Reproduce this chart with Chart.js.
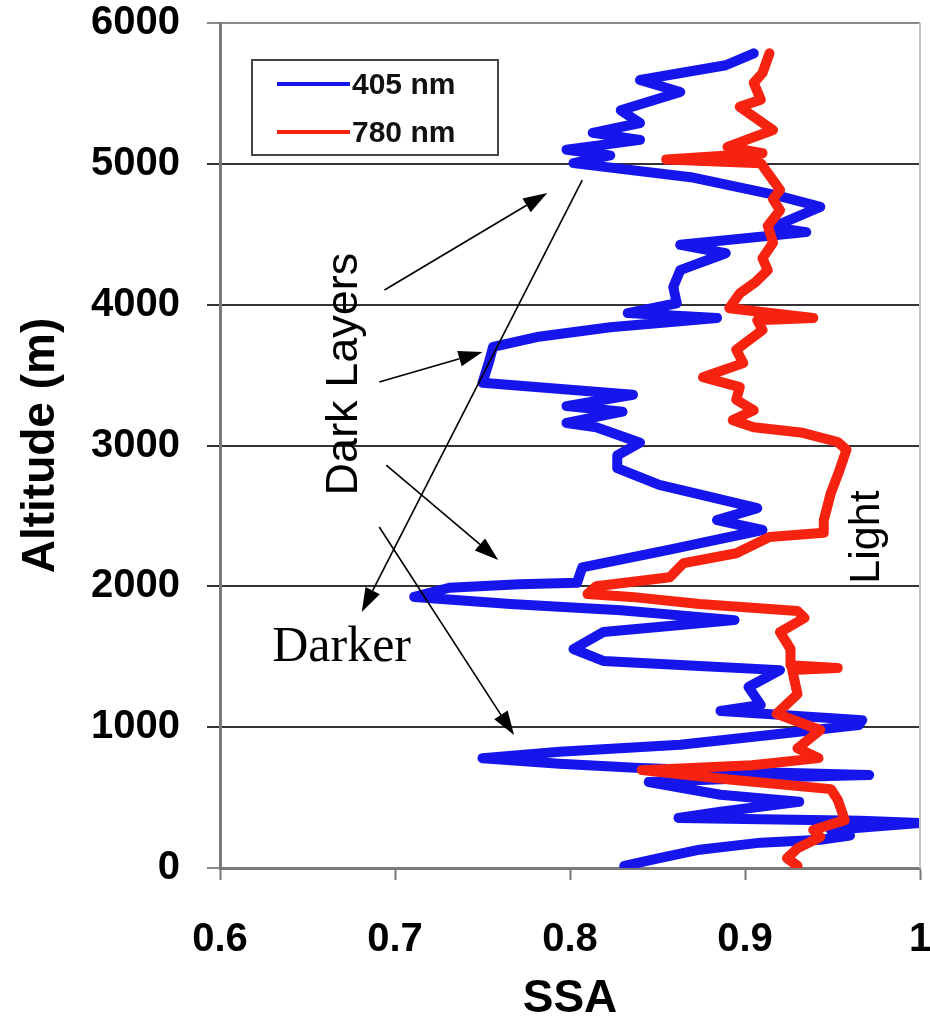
<!DOCTYPE html>
<html>
<head>
<meta charset="utf-8">
<script src="https://cdn.jsdelivr.net/npm/chart.js@4.4.1/dist/chart.umd.min.js"></script>
<style>
  html, body { margin: 0; padding: 0; background: #fff; }
</style>
</head>
<body>
<canvas id="ssaChart" width="930" height="1027"></canvas>
<script>
// SSA profiles, listed from the ground upwards
const blueSSA = [0.831, 0.851, 0.874, 0.909, 0.943, 0.960, 0.949, 1.000, 0.966, 0.862,
  0.886, 0.931, 0.886, 0.845, 0.909, 0.971, 0.909, 0.840, 0.794, 0.750,
  0.794, 0.863, 0.914, 0.965, 0.967, 0.886, 0.909, 0.902, 0.920, 0.874,
  0.819, 0.802, 0.819, 0.863, 0.894, 0.829, 0.766, 0.711, 0.731, 0.771,
  0.804, 0.807, 0.857, 0.910, 0.884, 0.907, 0.880, 0.851, 0.827, 0.827,
  0.840, 0.815, 0.798, 0.830, 0.798, 0.836, 0.750, 0.754, 0.756, 0.781,
  0.823, 0.884, 0.833, 0.861, 0.859, 0.863, 0.889, 0.863, 0.935, 0.916,
  0.943, 0.917, 0.869, 0.802, 0.823, 0.798, 0.840, 0.813, 0.840, 0.829,
  0.863, 0.840, 0.889, 0.905];
const blueAlt = [15, 70, 130, 180, 200, 230, 270, 320, 335, 355,
  400, 470, 520, 610, 640, 660, 680, 710, 740, 780,
  825, 875, 945, 1015, 1050, 1115, 1157, 1285, 1405, 1435,
  1470, 1555, 1675, 1725, 1760, 1830, 1875, 1925, 1990, 2015,
  2025, 2135, 2260, 2400, 2470, 2555, 2635, 2720, 2840, 2930,
  3020, 3130, 3160, 3240, 3280, 3360, 3445, 3605, 3700, 3770,
  3840, 3905, 3940, 4010, 4125, 4245, 4365, 4425, 4515, 4550,
  4695, 4780, 4905, 5005, 5060, 5100, 5170, 5220, 5290, 5380,
  5510, 5595, 5700, 5785];

const redSSA = [0.930, 0.924, 0.930, 0.943, 0.939, 0.957, 0.953, 0.949, 0.894, 0.841,
  0.904, 0.942, 0.930, 0.943, 0.918, 0.930, 0.927, 0.953, 0.926, 0.926,
  0.920, 0.934, 0.930, 0.874, 0.835, 0.810, 0.815, 0.857, 0.865, 0.895,
  0.914, 0.945, 0.945, 0.949, 0.954, 0.958, 0.953, 0.933, 0.905, 0.893,
  0.905, 0.895, 0.897, 0.876, 0.899, 0.895, 0.910, 0.907, 0.939, 0.891,
  0.897, 0.906, 0.913, 0.910, 0.916, 0.913, 0.920, 0.916, 0.920, 0.913,
  0.909, 0.855, 0.910, 0.890, 0.916, 0.897, 0.909, 0.905, 0.910, 0.914];
const redAlt = [15, 70, 140, 220, 270, 340, 485, 560, 625, 695,
  730, 780, 850, 980, 1095, 1235, 1405, 1420, 1440, 1555,
  1675, 1775, 1825, 1875, 1925, 1945, 2000, 2065, 2165, 2235,
  2350, 2380, 2470, 2660, 2825, 2970, 3025, 3090, 3130, 3180,
  3250, 3325, 3415, 3485, 3585, 3680, 3820, 3890, 3905, 3975,
  4080, 4160, 4245, 4330, 4440, 4560, 4670, 4750, 4815, 4935,
  5005, 5030, 5075, 5120, 5240, 5405, 5455, 5575, 5645, 5785];

const seriesLabels = ['405 nm', '780 nm'];
const seriesColors = ['#1616ec', '#f5230f'];
const xTickLabels = ['0.6', '0.7', '0.8', '0.9', '1'];
const yTickLabels = ['0', '1000', '2000', '3000', '4000', '5000', '6000'];

// arrows: [fromSSA, fromAlt, toSSA, toAlt]
const arrows = [
  [0.694, 4104, 0.787, 4793],
  [0.691, 3451, 0.750, 3664],
  [0.695, 2861, 0.759, 2187],
  [0.691, 2421, 0.768, 944],
  [0.807, 4885, 0.681, 1818]
];
// notes: [text, SSA, altitude, rotated, font]
const notes = [
  ['Dark Layers', 0.6714, 3507, true, '45px "Liberation Sans"'],
  ['Darker', 0.6695, 1562, false, '50px "Liberation Serif"'],
  ['Light', 0.970, 2350, true, '43px "Liberation Sans"']
];

function toPoints(xs, ys) {
  return xs.map((v, i) => ({ x: v, y: ys[i] }));
}

function drawArrow(ctx, x1, y1, x2, y2) {
  const ang = Math.atan2(y2 - y1, x2 - x1);
  const len = 24, half = 8;
  const bx = x2 - len * Math.cos(ang), by = y2 - len * Math.sin(ang);
  ctx.beginPath();
  ctx.moveTo(x1, y1);
  ctx.lineTo(bx, by);
  ctx.stroke();
  ctx.beginPath();
  ctx.moveTo(x2, y2);
  ctx.lineTo(bx + half * Math.sin(ang), by - half * Math.cos(ang));
  ctx.lineTo(bx - half * Math.sin(ang), by + half * Math.cos(ang));
  ctx.closePath();
  ctx.fill();
}

// frame edge, boxed legend and the hand-drawn notes
const overlay = {
  id: 'overlay',
  afterDraw(chart) {
    const { ctx, chartArea: a, scales: { x, y } } = chart;
    ctx.save();
    ctx.strokeStyle = '#c4c4c4';
    ctx.lineWidth = 2;
    ctx.beginPath();
    ctx.moveTo(a.right, a.top);
    ctx.lineTo(a.right, a.bottom);
    ctx.stroke();

    // legend box
    const lx = a.left + 32, ly = a.top + 37, lw = 246, lh = 95;
    ctx.fillStyle = '#fff';
    ctx.fillRect(lx, ly, lw, lh);
    ctx.strokeStyle = '#444';
    ctx.lineWidth = 2;
    ctx.strokeRect(lx, ly, lw, lh);
    ctx.font = 'bold 30px "Liberation Sans"';
    ctx.textBaseline = 'middle';
    chart.data.datasets.forEach((ds, i) => {
      const ry = ly + 24 + i * 48;
      ctx.strokeStyle = ds.borderColor;
      ctx.lineWidth = 4;
      ctx.beginPath();
      ctx.moveTo(lx + 25, ry);
      ctx.lineTo(lx + 98, ry);
      ctx.stroke();
      ctx.fillStyle = '#111';
      ctx.fillText(ds.label, lx + 100, ry + 2);
    });

    ctx.strokeStyle = '#000';
    ctx.fillStyle = '#000';
    ctx.lineWidth = 1.6;
    arrows.forEach(([fx, fy, tx, ty]) => {
      drawArrow(ctx, x.getPixelForValue(fx), y.getPixelForValue(fy),
        x.getPixelForValue(tx), y.getPixelForValue(ty));
    });

    ctx.textAlign = 'center';
    ctx.textBaseline = 'middle';
    notes.forEach(([text, sx, sy, rotated, font]) => {
      ctx.save();
      ctx.translate(x.getPixelForValue(sx), y.getPixelForValue(sy));
      if (rotated) ctx.rotate(-Math.PI / 2);
      ctx.font = font;
      ctx.fillText(text, 0, 0);
      ctx.restore();
    });
    ctx.restore();
  }
};

const ctx = document.getElementById('ssaChart').getContext('2d');
new Chart(ctx, {
  type: 'scatter',
  data: {
    datasets: [
      {
        label: seriesLabels[0],
        data: toPoints(blueSSA, blueAlt),
        borderColor: seriesColors[0],
        order: 1
      },
      {
        label: seriesLabels[1],
        data: toPoints(redSSA, redAlt),
        borderColor: seriesColors[1],
        order: 0
      }
    ].map(ds => Object.assign(ds, {
      showLine: true,
      borderWidth: 10,
      pointRadius: 0,
      borderJoinStyle: 'round',
      borderCapStyle: 'round',
      tension: 0,
      fill: false
    }))
  },
  options: {
    responsive: false,
    animation: false,
    layout: { padding: { top: 23, right: 10, left: 0, bottom: 0 } },
    plugins: {
      legend: { display: false },
      tooltip: { enabled: false }
    },
    scales: {
      x: {
        type: 'linear',
        min: 0.6,
        max: 1,
        ticks: {
          stepSize: 0.1,
          color: '#000',
          padding: 36,
          font: { family: '"Liberation Sans"', size: 40, weight: 'bold' },
          callback: v => xTickLabels[Math.round((v - 0.6) * 10)]
        },
        grid: { drawOnChartArea: false, drawTicks: true, tickLength: 12, tickWidth: 2, tickColor: '#777' },
        border: { color: '#7a7a7a', width: 3 },
        title: {
          display: true,
          text: 'SSA',
          color: '#000',
          font: { family: '"Liberation Sans"', size: 46, weight: 'bold' },
          padding: { top: 8, bottom: 0 }
        },
        afterFit(scale) {
          scale.height = 159;
          scale.paddingLeft = 0;
          scale.paddingRight = 0;
        }
      },
      y: {
        type: 'linear',
        min: 0,
        max: 6000,
        ticks: {
          stepSize: 1000,
          color: '#000',
          padding: 27,
          font: { family: '"Liberation Sans"', size: 40, weight: 'bold' },
          callback: v => yTickLabels[Math.round(v / 1000)]
        },
        grid: {
          color: c => (c.tick && (c.tick.value === 0 || c.tick.value === 6000)) ? '#8a8a8a' : '#333',
          lineWidth: 2,
          tickLength: 13
        },
        border: { color: '#7a7a7a', width: 3 },
        title: {
          display: true,
          text: 'Altitude (m)',
          color: '#000',
          font: { family: '"Liberation Sans"', size: 46, weight: 'bold' },
          padding: { top: 14, bottom: 0 }
        },
        afterFit(scale) {
          scale.width = 220;
          scale.paddingTop = 0;
          scale.paddingBottom = 0;
        }
      }
    }
  },
  plugins: [overlay]
});
</script>
</body>
</html>
